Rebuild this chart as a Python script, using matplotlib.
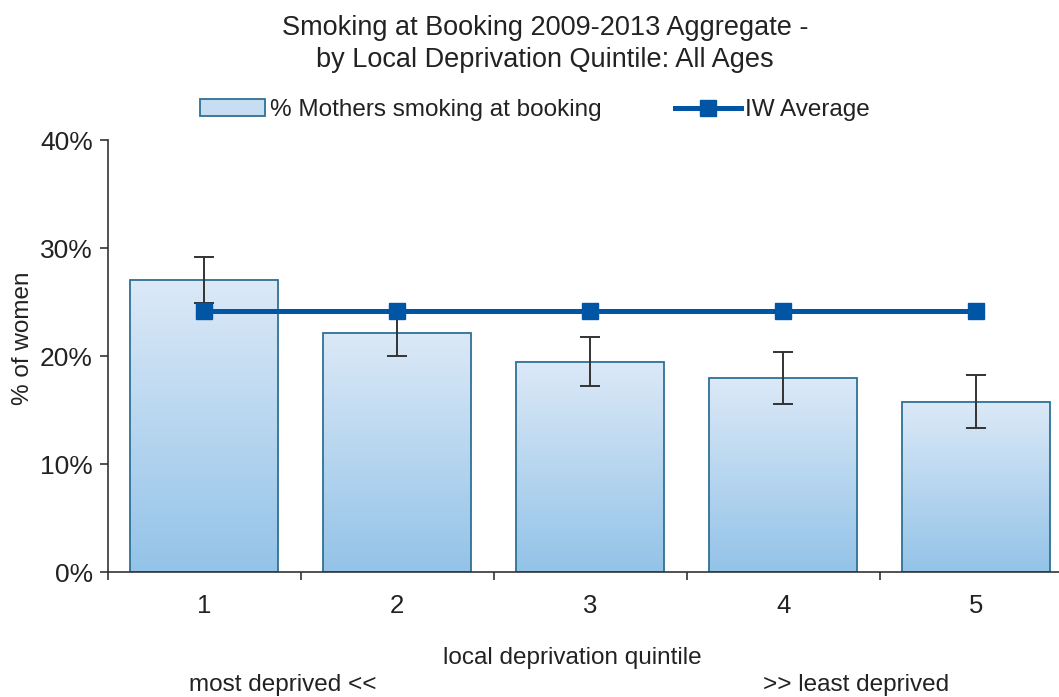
import numpy as np
import matplotlib
matplotlib.use('Agg')
import matplotlib.pyplot as plt
from matplotlib.lines import Line2D
from matplotlib.patches import Patch
from matplotlib.colors import LinearSegmentedColormap

plt.rcParams['font.family'] = ['Liberation Sans', 'DejaVu Sans']

quintiles = ['1', '2', '3', '4', '5']
smoking_pct = [27.05, 22.15, 19.45, 17.95, 15.75]
err_pct = [2.1, 2.13, 2.27, 2.4, 2.45]
iw_average = [24.2, 24.2, 24.2, 24.2, 24.2]

W, H = 1059, 697
fig = plt.figure(figsize=(W / 100, H / 100), dpi=100)
ax = fig.add_axes([108 / W, 1 - 572 / H, (1072.5 - 108) / W, (572 - 140) / H])

x = np.arange(len(quintiles))
bw = 0.767
txt = '#222222'

# gradient bars
cmap = LinearSegmentedColormap.from_list('bar', ['#93c3e8', '#dce9f7'])
grad = np.linspace(0, 1, 256).reshape(-1, 1)
for xi, h in zip(x, smoking_pct):
    ax.imshow(grad, cmap=cmap, origin='lower', aspect='auto',
              extent=[xi - bw / 2, xi + bw / 2, 0, h], zorder=1)
ax.bar(x, smoking_pct, width=bw, facecolor='none', edgecolor='#2f7196',
       linewidth=1.3, zorder=2)
ax.errorbar(x, smoking_pct, yerr=err_pct, fmt='none', ecolor='#333333',
            elinewidth=1.4, capsize=7, capthick=1.4, zorder=3)
ax.plot(x, iw_average, color='#0055a5', linewidth=3.6, marker='s',
        markersize=11, zorder=4)
ax.set_xlim(-0.5, 4.5)
ax.set_ylim(0, 40)

for s in ['top', 'right']:
    ax.spines[s].set_visible(False)
for s in ['left', 'bottom']:
    ax.spines[s].set_color('#333333')
    ax.spines[s].set_linewidth(1.2)

ax.set_yticks([0, 10, 20, 30, 40])
ax.set_yticklabels(['0%', '10%', '20%', '30%', '40%'])
ax.tick_params(axis='y', direction='out', length=6, width=1.2, color='#333333',
               labelsize=19, pad=5, labelcolor=txt)
ax.set_xticks(x)
ax.set_xticklabels(quintiles)
ax.set_xticks(np.arange(-0.5, 5, 1), minor=True)
ax.tick_params(axis='x', which='major', length=0, labelsize=18.5, pad=16,
               labelcolor=txt)
ax.tick_params(axis='x', which='minor', direction='out', length=6, width=1.2,
               color='#333333')

fig.text(23 / W, 1 - 338 / H, '% of women', rotation=90, ha='center',
         va='center', fontsize=17.5, color=txt)
fig.text(545 / W, 1 - 28 / H, 'Smoking at Booking 2009-2013 Aggregate -',
         ha='center', va='center', fontsize=19.5, color=txt)
fig.text(545 / W, 1 - 60 / H, 'by Local Deprivation Quintile: All Ages',
         ha='center', va='center', fontsize=19.5, color=txt)
fig.text(572 / W, 1 - 658 / H, 'local deprivation quintile', ha='center',
         va='center', fontsize=17.5, color=txt)
fig.text(283 / W, 1 - 685 / H, 'most deprived <<', ha='center', va='center',
         fontsize=17.5, color=txt)
fig.text(856 / W, 1 - 685 / H, '>> least deprived', ha='center', va='center',
         fontsize=17.5, color=txt)

handles = [Patch(facecolor='#c6ddf2', edgecolor='#2f7196', linewidth=1.3),
           Line2D([], [], color='#0055a5', linewidth=3.6, marker='s', markersize=11)]
fig.legend(handles, ['% Mothers smoking at booking', 'IW Average'],
           loc='center', bbox_to_anchor=(535 / W, 1 - 110 / H), ncol=2,
           frameon=False, fontsize=17.5, handlelength=2.7, handletextpad=0.2,
           columnspacing=3.0, labelcolor=txt)

fig.savefig('out.png', dpi=100)
